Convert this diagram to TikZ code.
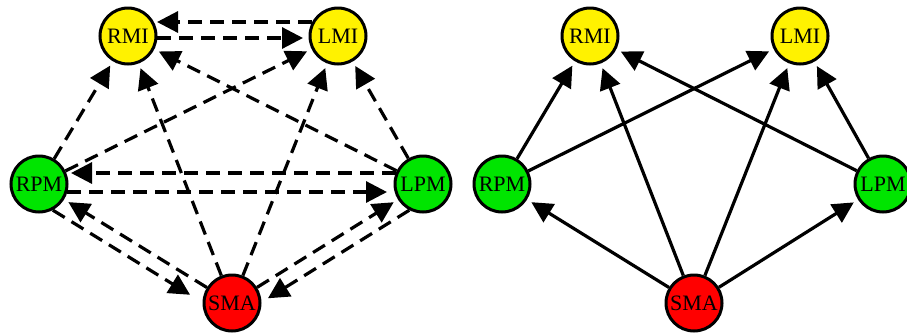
\documentclass[tikz,border=0pt]{standalone}
\usepackage{fontspec}
\setmainfont{Liberation Serif}
\usetikzlibrary{arrows.meta,calc}
\tikzset{
  area/.style={circle, draw=black, line width=3pt, minimum size=56pt, inner sep=0pt,
    font=\fontsize{22}{22}\selectfont},
  ymi/.style={area, fill=yellow},
  gpm/.style={area, fill=green!90!black},
  rsm/.style={area, fill=red},
  conn/.style={line width=3.2pt, -{Triangle[length=21pt,width=21pt]}, shorten >=5pt},
  dconn/.style={conn, dash pattern=on 14pt off 8pt},
}
% offset parallel connector: [style]{from}{to}{offset}{start shorten}{end shorten}
\newcommand\offedge[6][]{\draw[#1, shorten <=#5, shorten >=#6]
  ($(#2)!#4!90:(#3)$) -- ($(#3)!#4!-90:(#2)$);}
\begin{document}
\begin{tikzpicture}[x=1pt,y=1pt]
\useasboundingbox (0,0) rectangle (907,-333);
% ---------- left graph ----------
\node[ymi] (RMI) at (128,-36) {RMI};
\node[ymi] (LMI) at (338,-36) {LMI};
\node[gpm] (RPM) at (39,-184) {RPM};
\node[gpm] (LPM) at (423,-184) {LPM};
\node[rsm] (SMA) at (232,-303) {SMA};

\offedge[dconn]{RMI}{LMI}{-2pt}{29.4pt}{35pt}
\offedge[dconn]{LMI}{RMI}{-14pt}{26pt}{29pt}
\offedge[dconn]{RPM}{LPM}{-8pt}{28.4pt}{36pt}
\offedge[dconn]{LPM}{RPM}{-11pt}{27.4pt}{32pt}
\draw[dconn] (SMA) -- (RPM);
\offedge[dconn]{RPM}{SMA}{-15pt}{25.4pt}{40pt}
\draw[dconn] (SMA) -- (LPM);
\offedge[dconn]{LPM}{SMA}{15pt}{25.4pt}{33pt}
\draw[dconn] (RPM) -- (RMI);
\draw[dconn] (RPM) -- (LMI);
\draw[dconn] (LPM) -- (LMI);
\draw[dconn] (LPM) -- (RMI);
\draw[dconn] (SMA) -- (RMI);
\draw[dconn] (SMA) -- (LMI);

% ---------- right graph ----------
\node[ymi] (RMIb) at (590,-36) {RMI};
\node[ymi] (LMIb) at (800,-36) {LMI};
\node[gpm] (RPMb) at (502,-184) {RPM};
\node[gpm] (LPMb) at (883,-184) {LPM};
\node[rsm] (SMAb) at (694,-303) {SMA};

\draw[conn] (RPMb) -- (RMIb);
\draw[conn] (RPMb) -- (LMIb);
\draw[conn] (LPMb) -- (LMIb);
\draw[conn] (LPMb) -- (RMIb);
\draw[conn] (SMAb) -- (RMIb);
\draw[conn] (SMAb) -- (LMIb);
\draw[conn] (SMAb) -- (RPMb);
\draw[conn] (SMAb) -- (LPMb);
\end{tikzpicture}
\end{document}
